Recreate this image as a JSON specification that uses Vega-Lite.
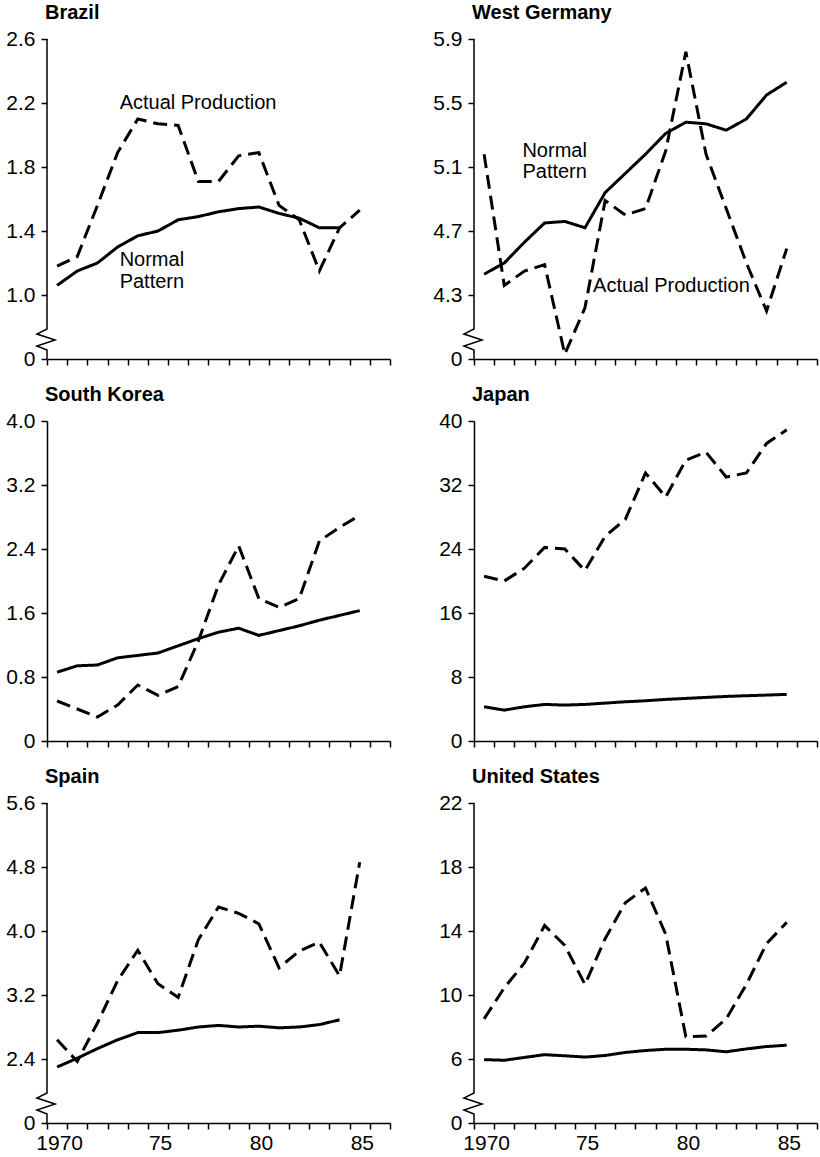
{
  "$schema": "https://vega.github.io/schema/vega-lite/v6.json",
  "background": "white",
  "padding": {"left": 5, "top": 3, "right": 3, "bottom": 10},
  "config": {
    "view": {"stroke": null},
    "axis": {"grid": false, "title": null, "domainColor": "black", "domainWidth": 1.5, "tickColor": "black", "tickWidth": 1.5, "tickSize": 6, "tickCount": 60, "labelColor": "black", "labelFont": "Liberation Sans Narrow, Liberation Sans", "labelFontSize": 21, "labelPadding": 4, "labelOverlap": false, "labelFlush": false},
    "axisY": {"labelPadding": 6},
    "title": {"anchor": "start", "frame": "group", "fontSize": 20, "fontWeight": "bold", "font": "Liberation Sans", "color": "black", "offset": 5, "dx": -2}
  },
  "datasets": {
    "prod": [
      {"country": "Brazil", "year": 1970, "Actual": 1.18, "Normal": 1.06},
      {"country": "Brazil", "year": 1971, "Actual": 1.24, "Normal": 1.15},
      {"country": "Brazil", "year": 1972, "Actual": 1.56, "Normal": 1.20},
      {"country": "Brazil", "year": 1973, "Actual": 1.89, "Normal": 1.30},
      {"country": "Brazil", "year": 1974, "Actual": 2.10, "Normal": 1.37},
      {"country": "Brazil", "year": 1975, "Actual": 2.07, "Normal": 1.40},
      {"country": "Brazil", "year": 1976, "Actual": 2.06, "Normal": 1.47},
      {"country": "Brazil", "year": 1977, "Actual": 1.71, "Normal": 1.49},
      {"country": "Brazil", "year": 1978, "Actual": 1.71, "Normal": 1.52},
      {"country": "Brazil", "year": 1979, "Actual": 1.87, "Normal": 1.54},
      {"country": "Brazil", "year": 1980, "Actual": 1.89, "Normal": 1.55},
      {"country": "Brazil", "year": 1981, "Actual": 1.56, "Normal": 1.51},
      {"country": "Brazil", "year": 1982, "Actual": 1.47, "Normal": 1.48},
      {"country": "Brazil", "year": 1983, "Actual": 1.15, "Normal": 1.42},
      {"country": "Brazil", "year": 1984, "Actual": 1.42, "Normal": 1.42},
      {"country": "Brazil", "year": 1985, "Actual": 1.53, "Normal": null},
      {"country": "West Germany", "year": 1970, "Actual": 5.18, "Normal": 4.43},
      {"country": "West Germany", "year": 1971, "Actual": 4.36, "Normal": 4.50},
      {"country": "West Germany", "year": 1972, "Actual": 4.45, "Normal": 4.63},
      {"country": "West Germany", "year": 1973, "Actual": 4.49, "Normal": 4.75},
      {"country": "West Germany", "year": 1974, "Actual": 3.93, "Normal": 4.76},
      {"country": "West Germany", "year": 1975, "Actual": 4.22, "Normal": 4.72},
      {"country": "West Germany", "year": 1976, "Actual": 4.89, "Normal": 4.94},
      {"country": "West Germany", "year": 1977, "Actual": 4.80, "Normal": 5.06},
      {"country": "West Germany", "year": 1978, "Actual": 4.84, "Normal": 5.18},
      {"country": "West Germany", "year": 1979, "Actual": 5.20, "Normal": 5.31},
      {"country": "West Germany", "year": 1980, "Actual": 5.82, "Normal": 5.38},
      {"country": "West Germany", "year": 1981, "Actual": 5.18, "Normal": 5.37},
      {"country": "West Germany", "year": 1982, "Actual": 4.84, "Normal": 5.33},
      {"country": "West Germany", "year": 1983, "Actual": 4.50, "Normal": 5.40},
      {"country": "West Germany", "year": 1984, "Actual": 4.20, "Normal": 5.55},
      {"country": "West Germany", "year": 1985, "Actual": 4.59, "Normal": 5.63},
      {"country": "South Korea", "year": 1970, "Actual": 0.50, "Normal": 0.86},
      {"country": "South Korea", "year": 1971, "Actual": 0.40, "Normal": 0.94},
      {"country": "South Korea", "year": 1972, "Actual": 0.30, "Normal": 0.95},
      {"country": "South Korea", "year": 1973, "Actual": 0.45, "Normal": 1.04},
      {"country": "South Korea", "year": 1974, "Actual": 0.70, "Normal": 1.07},
      {"country": "South Korea", "year": 1975, "Actual": 0.57, "Normal": 1.10},
      {"country": "South Korea", "year": 1976, "Actual": 0.68, "Normal": 1.19},
      {"country": "South Korea", "year": 1977, "Actual": 1.25, "Normal": 1.28},
      {"country": "South Korea", "year": 1978, "Actual": 1.95, "Normal": 1.36},
      {"country": "South Korea", "year": 1979, "Actual": 2.44, "Normal": 1.41},
      {"country": "South Korea", "year": 1980, "Actual": 1.78, "Normal": 1.32},
      {"country": "South Korea", "year": 1981, "Actual": 1.67, "Normal": 1.38},
      {"country": "South Korea", "year": 1982, "Actual": 1.78, "Normal": 1.44},
      {"country": "South Korea", "year": 1983, "Actual": 2.50, "Normal": 1.51},
      {"country": "South Korea", "year": 1984, "Actual": 2.67, "Normal": 1.57},
      {"country": "South Korea", "year": 1985, "Actual": 2.82, "Normal": 1.63},
      {"country": "Japan", "year": 1970, "Actual": 20.6, "Normal": 4.28},
      {"country": "Japan", "year": 1971, "Actual": 20.0, "Normal": 3.86},
      {"country": "Japan", "year": 1972, "Actual": 21.6, "Normal": 4.28},
      {"country": "Japan", "year": 1973, "Actual": 24.2, "Normal": 4.57},
      {"country": "Japan", "year": 1974, "Actual": 24.0, "Normal": 4.49},
      {"country": "Japan", "year": 1975, "Actual": 21.3, "Normal": 4.57},
      {"country": "Japan", "year": 1976, "Actual": 25.6, "Normal": 4.74},
      {"country": "Japan", "year": 1977, "Actual": 27.7, "Normal": 4.90},
      {"country": "Japan", "year": 1978, "Actual": 33.5, "Normal": 5.03},
      {"country": "Japan", "year": 1979, "Actual": 30.5, "Normal": 5.20},
      {"country": "Japan", "year": 1980, "Actual": 35.1, "Normal": 5.32},
      {"country": "Japan", "year": 1981, "Actual": 36.1, "Normal": 5.45},
      {"country": "Japan", "year": 1982, "Actual": 33.0, "Normal": 5.57},
      {"country": "Japan", "year": 1983, "Actual": 33.5, "Normal": 5.66},
      {"country": "Japan", "year": 1984, "Actual": 37.2, "Normal": 5.74},
      {"country": "Japan", "year": 1985, "Actual": 38.9, "Normal": 5.83},
      {"country": "Spain", "year": 1970, "Actual": 2.64, "Normal": 2.30},
      {"country": "Spain", "year": 1971, "Actual": 2.37, "Normal": 2.41},
      {"country": "Spain", "year": 1972, "Actual": 2.85, "Normal": 2.53},
      {"country": "Spain", "year": 1973, "Actual": 3.38, "Normal": 2.64},
      {"country": "Spain", "year": 1974, "Actual": 3.76, "Normal": 2.73},
      {"country": "Spain", "year": 1975, "Actual": 3.34, "Normal": 2.73},
      {"country": "Spain", "year": 1976, "Actual": 3.17, "Normal": 2.76},
      {"country": "Spain", "year": 1977, "Actual": 3.89, "Normal": 2.80},
      {"country": "Spain", "year": 1978, "Actual": 4.30, "Normal": 2.82},
      {"country": "Spain", "year": 1979, "Actual": 4.22, "Normal": 2.80},
      {"country": "Spain", "year": 1980, "Actual": 4.09, "Normal": 2.81},
      {"country": "Spain", "year": 1981, "Actual": 3.54, "Normal": 2.79},
      {"country": "Spain", "year": 1982, "Actual": 3.75, "Normal": 2.80},
      {"country": "Spain", "year": 1983, "Actual": 3.86, "Normal": 2.83},
      {"country": "Spain", "year": 1984, "Actual": 3.44, "Normal": 2.89},
      {"country": "Spain", "year": 1985, "Actual": 4.86, "Normal": null},
      {"country": "United States", "year": 1970, "Actual": 8.51, "Normal": 5.96},
      {"country": "United States", "year": 1971, "Actual": 10.45, "Normal": 5.92},
      {"country": "United States", "year": 1972, "Actual": 12.0, "Normal": 6.10},
      {"country": "United States", "year": 1973, "Actual": 14.34, "Normal": 6.27},
      {"country": "United States", "year": 1974, "Actual": 13.1, "Normal": 6.20},
      {"country": "United States", "year": 1975, "Actual": 10.66, "Normal": 6.12},
      {"country": "United States", "year": 1976, "Actual": 13.52, "Normal": 6.22},
      {"country": "United States", "year": 1977, "Actual": 15.77, "Normal": 6.41},
      {"country": "United States", "year": 1978, "Actual": 16.69, "Normal": 6.53},
      {"country": "United States", "year": 1979, "Actual": 13.8, "Normal": 6.61},
      {"country": "United States", "year": 1980, "Actual": 7.39, "Normal": 6.61},
      {"country": "United States", "year": 1981, "Actual": 7.43, "Normal": 6.57},
      {"country": "United States", "year": 1982, "Actual": 8.51, "Normal": 6.45},
      {"country": "United States", "year": 1983, "Actual": 10.66, "Normal": 6.63},
      {"country": "United States", "year": 1984, "Actual": 13.21, "Normal": 6.78},
      {"country": "United States", "year": 1985, "Actual": 14.54, "Normal": 6.86}
    ],
    "notes": [
      {"country": "Brazil", "label": "Actual Production", "year": 1973.1, "value": 2.2},
      {"country": "Brazil", "label": "Normal", "year": 1973.1, "value": 1.22},
      {"country": "Brazil", "label": "Pattern", "year": 1973.1, "value": 1.083},
      {"country": "West Germany", "label": "Normal", "year": 1971.9, "value": 5.2},
      {"country": "West Germany", "label": "Pattern", "year": 1971.9, "value": 5.067},
      {"country": "West Germany", "label": "Actual Production", "year": 1975.4, "value": 4.358}
    ],
    "brk": [
      {"country": "Brazil", "step": 1, "year": 1969.5, "value": 2.6},
      {"country": "Brazil", "step": 2, "year": 1969.5, "value": 0.7875},
      {"country": "Brazil", "step": 3, "year": 1969.0, "value": 0.756},
      {"country": "Brazil", "step": 4, "year": 1969.9, "value": 0.719},
      {"country": "Brazil", "step": 5, "year": 1969.0, "value": 0.681},
      {"country": "Brazil", "step": 6, "year": 1969.5, "value": 0.656},
      {"country": "Brazil", "step": 7, "year": 1969.5, "value": 0.6},
      {"country": "West Germany", "step": 1, "year": 1969.5, "value": 5.9},
      {"country": "West Germany", "step": 2, "year": 1969.5, "value": 4.0875},
      {"country": "West Germany", "step": 3, "year": 1969.0, "value": 4.056},
      {"country": "West Germany", "step": 4, "year": 1969.9, "value": 4.019},
      {"country": "West Germany", "step": 5, "year": 1969.0, "value": 3.981},
      {"country": "West Germany", "step": 6, "year": 1969.5, "value": 3.956},
      {"country": "West Germany", "step": 7, "year": 1969.5, "value": 3.9},
      {"country": "Spain", "step": 1, "year": 1969.5, "value": 5.6},
      {"country": "Spain", "step": 2, "year": 1969.5, "value": 1.975},
      {"country": "Spain", "step": 3, "year": 1969.0, "value": 1.9125},
      {"country": "Spain", "step": 4, "year": 1969.9, "value": 1.8375},
      {"country": "Spain", "step": 5, "year": 1969.0, "value": 1.7625},
      {"country": "Spain", "step": 6, "year": 1969.5, "value": 1.7125},
      {"country": "Spain", "step": 7, "year": 1969.5, "value": 1.6},
      {"country": "United States", "step": 1, "year": 1969.5, "value": 22},
      {"country": "United States", "step": 2, "year": 1969.5, "value": 3.875},
      {"country": "United States", "step": 3, "year": 1969.0, "value": 3.5625},
      {"country": "United States", "step": 4, "year": 1969.9, "value": 3.1875},
      {"country": "United States", "step": 5, "year": 1969.0, "value": 2.8125},
      {"country": "United States", "step": 6, "year": 1969.5, "value": 2.5625},
      {"country": "United States", "step": 7, "year": 1969.5, "value": 2}
    ]
  },
  "columns": 2,
  "bounds": "flush",
  "spacing": {"row": 62, "column": 84},
  "concat": [
    {
      "title": "Brazil", "width": 343, "height": 320,
      "layer": [
        {
          "data": {"name": "prod"},
          "transform": [{"filter": "datum.country === 'Brazil'"}, {"fold": ["Actual", "Normal"], "as": ["series", "value"]}],
          "mark": {"type": "line", "stroke": "black", "strokeWidth": 3, "clip": false},
          "encoding": {
            "x": {"field": "year", "type": "quantitative", "scale": {"domain": [1969.5, 1986.5], "nice": false, "zero": false},
                  "axis": {"values": [1969.5,1970.5,1971.5,1972.5,1973.5,1974.5,1975.5,1976.5,1977.5,1978.5,1979.5,1980.5,1981.5,1982.5,1983.5,1984.5,1985.5,1986.5], "tickCount": 60, "labels": false}},
            "y": {"field": "value", "type": "quantitative", "scale": {"domain": [0.6, 2.6], "nice": false, "zero": false},
                  "axis": {"values": [0.6, 1.0, 1.4, 1.8, 2.2, 2.6], "labelExpr": "datum.value < 0.7 ? '0' : format(datum.value, '.1f')", "domain": false}},
            "strokeDash": {"field": "series", "type": "nominal", "scale": {"domain": ["Normal", "Actual"], "range": [[1, 0], [14, 7]]}, "legend": null}
          }
        },
        {
          "data": {"name": "notes"},
          "transform": [{"filter": "datum.country === 'Brazil'"}],
          "mark": {"type": "text", "align": "left", "baseline": "middle", "fontSize": 20, "font": "Liberation Sans", "color": "black"},
          "encoding": {"x": {"field": "year", "type": "quantitative"}, "y": {"field": "value", "type": "quantitative"}, "text": {"field": "label"}}
        },
        {
          "data": {"name": "brk"},
          "transform": [{"filter": "datum.country === 'Brazil'"}],
          "mark": {"type": "line", "stroke": "black", "strokeWidth": 1.5, "clip": false},
          "encoding": {"x": {"field": "year", "type": "quantitative"}, "y": {"field": "value", "type": "quantitative"}, "order": {"field": "step", "type": "quantitative"}}
        }
      ]
    },
    {
      "title": "West Germany", "width": 343, "height": 320,
      "layer": [
        {
          "data": {"name": "prod"},
          "transform": [{"filter": "datum.country === 'West Germany'"}, {"fold": ["Actual", "Normal"], "as": ["series", "value"]}],
          "mark": {"type": "line", "stroke": "black", "strokeWidth": 3, "clip": false},
          "encoding": {
            "x": {"field": "year", "type": "quantitative", "scale": {"domain": [1969.5, 1986.5], "nice": false, "zero": false},
                  "axis": {"values": [1969.5,1970.5,1971.5,1972.5,1973.5,1974.5,1975.5,1976.5,1977.5,1978.5,1979.5,1980.5,1981.5,1982.5,1983.5,1984.5,1985.5,1986.5], "tickCount": 60, "labels": false}},
            "y": {"field": "value", "type": "quantitative", "scale": {"domain": [3.9, 5.9], "nice": false, "zero": false},
                  "axis": {"values": [3.9, 4.3, 4.7, 5.1, 5.5, 5.9], "labelExpr": "datum.value < 4 ? '0' : format(datum.value, '.1f')", "domain": false}},
            "strokeDash": {"field": "series", "type": "nominal", "scale": {"domain": ["Normal", "Actual"], "range": [[1, 0], [14, 7]]}, "legend": null}
          }
        },
        {
          "data": {"name": "notes"},
          "transform": [{"filter": "datum.country === 'West Germany'"}],
          "mark": {"type": "text", "align": "left", "baseline": "middle", "fontSize": 20, "font": "Liberation Sans", "color": "black"},
          "encoding": {"x": {"field": "year", "type": "quantitative"}, "y": {"field": "value", "type": "quantitative"}, "text": {"field": "label"}}
        },
        {
          "data": {"name": "brk"},
          "transform": [{"filter": "datum.country === 'West Germany'"}],
          "mark": {"type": "line", "stroke": "black", "strokeWidth": 1.5, "clip": false},
          "encoding": {"x": {"field": "year", "type": "quantitative"}, "y": {"field": "value", "type": "quantitative"}, "order": {"field": "step", "type": "quantitative"}}
        }
      ]
    },
    {
      "title": "South Korea", "width": 343, "height": 320,
      "data": {"name": "prod"},
      "transform": [{"filter": "datum.country === 'South Korea'"}, {"fold": ["Actual", "Normal"], "as": ["series", "value"]}],
      "mark": {"type": "line", "stroke": "black", "strokeWidth": 3, "clip": false},
      "encoding": {
        "x": {"field": "year", "type": "quantitative", "scale": {"domain": [1969.5, 1986.5], "nice": false, "zero": false},
              "axis": {"values": [1969.5,1970.5,1971.5,1972.5,1973.5,1974.5,1975.5,1976.5,1977.5,1978.5,1979.5,1980.5,1981.5,1982.5,1983.5,1984.5,1985.5,1986.5], "tickCount": 60, "labels": false}},
        "y": {"field": "value", "type": "quantitative", "scale": {"domain": [0, 4], "nice": false, "zero": false},
              "axis": {"values": [0, 0.8, 1.6, 2.4, 3.2, 4.0], "labelExpr": "datum.value == 0 ? '0' : format(datum.value, '.1f')"}},
        "strokeDash": {"field": "series", "type": "nominal", "scale": {"domain": ["Normal", "Actual"], "range": [[1, 0], [14, 7]]}, "legend": null}
      }
    },
    {
      "title": "Japan", "width": 343, "height": 320,
      "data": {"name": "prod"},
      "transform": [{"filter": "datum.country === 'Japan'"}, {"fold": ["Actual", "Normal"], "as": ["series", "value"]}],
      "mark": {"type": "line", "stroke": "black", "strokeWidth": 3, "clip": false},
      "encoding": {
        "x": {"field": "year", "type": "quantitative", "scale": {"domain": [1969.5, 1986.5], "nice": false, "zero": false},
              "axis": {"values": [1969.5,1970.5,1971.5,1972.5,1973.5,1974.5,1975.5,1976.5,1977.5,1978.5,1979.5,1980.5,1981.5,1982.5,1983.5,1984.5,1985.5,1986.5], "tickCount": 60, "labels": false}},
        "y": {"field": "value", "type": "quantitative", "scale": {"domain": [0, 40], "nice": false, "zero": false},
              "axis": {"values": [0, 8, 16, 24, 32, 40], "format": "d"}},
        "strokeDash": {"field": "series", "type": "nominal", "scale": {"domain": ["Normal", "Actual"], "range": [[1, 0], [14, 7]]}, "legend": null}
      }
    },
    {
      "title": "Spain", "width": 343, "height": 320,
      "layer": [
        {
          "data": {"name": "prod"},
          "transform": [{"filter": "datum.country === 'Spain'"}, {"fold": ["Actual", "Normal"], "as": ["series", "value"]}],
          "mark": {"type": "line", "stroke": "black", "strokeWidth": 3, "clip": false},
          "encoding": {
            "x": {"field": "year", "type": "quantitative", "scale": {"domain": [1969.5, 1986.5], "nice": false, "zero": false},
                  "axis": {"values": [1969.5,1970.5,1971.5,1972.5,1973.5,1974.5,1975.5,1976.5,1977.5,1978.5,1979.5,1980.5,1981.5,1982.5,1983.5,1984.5,1985.5,1986.5], "tickCount": 60,
                           "labelExpr": "datum.value == 1970.5 ? '1970' : (datum.value == 1975.5 ? '75' : (datum.value == 1980.5 ? '80' : (datum.value == 1985.5 ? '85' : '')))",
                           "labelOffset": -8, "labelOverlap": false, "labelFlush": false, "labelBound": false,
                           "labelFontSize": 21, "labelPadding": 3}},
            "y": {"field": "value", "type": "quantitative", "scale": {"domain": [1.6, 5.6], "nice": false, "zero": false},
                  "axis": {"values": [1.6, 2.4, 3.2, 4.0, 4.8, 5.6], "labelExpr": "datum.value < 2 ? '0' : format(datum.value, '.1f')", "domain": false}},
            "strokeDash": {"field": "series", "type": "nominal", "scale": {"domain": ["Normal", "Actual"], "range": [[1, 0], [14, 7]]}, "legend": null}
          }
        },
        {
          "data": {"name": "brk"},
          "transform": [{"filter": "datum.country === 'Spain'"}],
          "mark": {"type": "line", "stroke": "black", "strokeWidth": 1.5, "clip": false},
          "encoding": {"x": {"field": "year", "type": "quantitative"}, "y": {"field": "value", "type": "quantitative"}, "order": {"field": "step", "type": "quantitative"}}
        }
      ]
    },
    {
      "title": "United States", "width": 343, "height": 320,
      "layer": [
        {
          "data": {"name": "prod"},
          "transform": [{"filter": "datum.country === 'United States'"}, {"fold": ["Actual", "Normal"], "as": ["series", "value"]}],
          "mark": {"type": "line", "stroke": "black", "strokeWidth": 3, "clip": false},
          "encoding": {
            "x": {"field": "year", "type": "quantitative", "scale": {"domain": [1969.5, 1986.5], "nice": false, "zero": false},
                  "axis": {"values": [1969.5,1970.5,1971.5,1972.5,1973.5,1974.5,1975.5,1976.5,1977.5,1978.5,1979.5,1980.5,1981.5,1982.5,1983.5,1984.5,1985.5,1986.5], "tickCount": 60,
                           "labelExpr": "datum.value == 1970.5 ? '1970' : (datum.value == 1975.5 ? '75' : (datum.value == 1980.5 ? '80' : (datum.value == 1985.5 ? '85' : '')))",
                           "labelOffset": -8, "labelOverlap": false, "labelFlush": false, "labelBound": false,
                           "labelFontSize": 21, "labelPadding": 3}},
            "y": {"field": "value", "type": "quantitative", "scale": {"domain": [2, 22], "nice": false, "zero": false},
                  "axis": {"values": [2, 6, 10, 14, 18, 22], "labelExpr": "datum.value < 3 ? '0' : format(datum.value, 'd')", "domain": false}},
            "strokeDash": {"field": "series", "type": "nominal", "scale": {"domain": ["Normal", "Actual"], "range": [[1, 0], [14, 7]]}, "legend": null}
          }
        },
        {
          "data": {"name": "brk"},
          "transform": [{"filter": "datum.country === 'United States'"}],
          "mark": {"type": "line", "stroke": "black", "strokeWidth": 1.5, "clip": false},
          "encoding": {"x": {"field": "year", "type": "quantitative"}, "y": {"field": "value", "type": "quantitative"}, "order": {"field": "step", "type": "quantitative"}}
        }
      ]
    }
  ]
}
